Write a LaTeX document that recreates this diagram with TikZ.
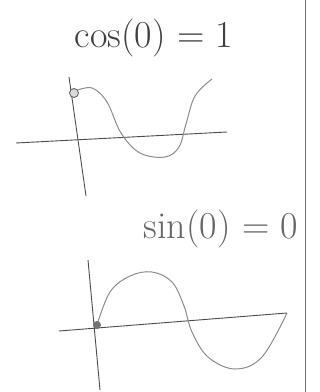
\documentclass[tikz,border=0pt]{standalone}
\usepackage{tikz}
\usetikzlibrary{positioning}

\tikzset{
  axis/.style={draw=black!70, line width=0.9pt},
  wave/.style={draw=black!45, line width=1pt},
  label/.style={text=black!75, font=\fontsize{38}{38}\selectfont},
}

\begin{document}
\begin{tikzpicture}[x=1pt,y=-1pt]
  \useasboundingbox (0,0) rectangle (320,392);
  \fill[white] (0,0) rectangle (320,392);

  % margin line
  \coordinate (MT) at (305,0);
  \coordinate (MB) at (305,392);
  \draw[draw=black!55, line width=0.8pt] (MT) -- (MB);

  % cos part
  \coordinate (cosAT) at (69,77);
  \coordinate (cosAB) at (86,196);
  \coordinate (cosHL) at (16,143);
  \coordinate (cosHR) at (227,132);
  \coordinate (cosP) at (74,93);
  \node[label] (cosLbl) at (154,38) {cos(0) = 1};
  \draw[axis] (cosAT) -- (cosAB);
  \draw[axis] (cosHL) -- (cosHR);
  \draw[wave] plot[smooth, tension=0.6] coordinates {(75,91) (92,88) (107,102) (121,133)
    (140,153) (165,157) (179,147) (186,124) (195,96) (212,79)};
  \draw[draw=black!60, fill=black!15, line width=0.9pt] (cosP) circle (4.5);

  % sin part
  \coordinate (sinAT) at (88,260);
  \coordinate (sinAB) at (100,390);
  \coordinate (sinHL) at (59,331);
  \coordinate (sinHR) at (287,313);
  \coordinate (sinP) at (97,325);
  \node[label, text=black!60] (sinLbl) at (221,229) {sin(0) = 0};
  \draw[axis] (sinAT) -- (sinAB);
  \draw[axis] (sinHL) -- (sinHR);
  \draw[wave] plot[smooth, tension=0.6] coordinates {(97,325) (110,292) (130,276) (152,272)
    (172,282) (184,306) (192,332) (208,357) (235,369) (262,357) (287,313)};
  \fill[black!55] (sinP) circle (4);
\end{tikzpicture}
\end{document}
